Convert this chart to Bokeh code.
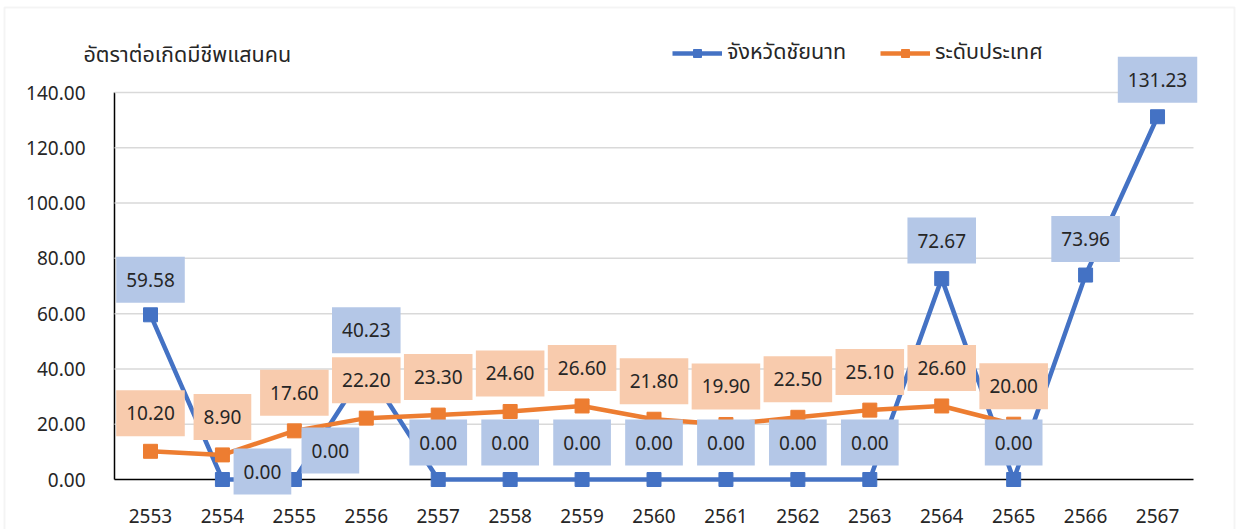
from bokeh.plotting import figure
from bokeh.models import (ColumnDataSource, Legend, LegendItem, Label, LinearAxis,
                          Range1d, FixedTicker, NumeralTickFormatter, BoxAnnotation)
from bokeh.embed import file_html
from bokeh.resources import INLINE

# ---------------- data ----------------
years = ["2553", "2554", "2555", "2556", "2557", "2558", "2559", "2560",
         "2561", "2562", "2563", "2564", "2565", "2566", "2567"]
chainat = [59.58, 0.00, 0.00, 40.23, 0.00, 0.00, 0.00, 0.00,
           0.00, 0.00, 0.00, 72.67, 0.00, 73.96, 131.23]
national_years = years[:13]
national = [10.20, 8.90, 17.60, 22.20, 23.30, 24.60, 26.60, 21.80,
            19.90, 22.50, 25.10, 26.60, 20.00]
y_ticks = [0, 20, 40, 60, 80, 100, 120, 140]
series_names = ["จังหวัดชัยนาท", "ระดับประเทศ"]
y_title = "อัตราต่อเกิดมีชีพแสนคน"

# label placement (screen px offsets, layout only)
chainat_dx = [0, 40, 36, 0, 0, 0, 0, 0, 0, 0, 0, 0, 0, 0, 0]
chainat_dy = [35, 8, 29, 38, 37, 37, 37, 37, 37, 37, 37, 38, 37, 36, 37]
national_dx = [0] * len(national)
national_dy = [38] * len(national)

BLUE = "#4472C4"
ORANGE = "#ED7D31"
BLUE_BG = "#B4C7E7"
ORANGE_BG = "#F8CBAD"
FONT = "Noto Sans"
THAI_FONT = "Noto Sans Thai, Noto Sans, sans-serif"
TXT = "#262626"

# ---------------- layout (pixels of the page) ----------------
W, H = 1239, 529
X0_PX, DX_PX = 150.0, 71.93       # centre of first category, category step
Y0_PX, DY_PX = 479.0, 387.0 / 140  # pixel of value 0, pixels per unit


def px_to_x(px):
    return (px - X0_PX) / DX_PX


def px_to_y(py):
    return (Y0_PX - py) / DY_PX


idx = list(range(len(years)))
xi_c = [years.index(v) for v in years]
xi_n = [years.index(v) for v in national_years]

src_c = ColumnDataSource(dict(x=xi_c, y=chainat))
src_n = ColumnDataSource(dict(x=xi_n, y=national))

p = figure(width=W, height=H,
           x_range=Range1d(px_to_x(0), px_to_x(W)),
           y_range=Range1d(px_to_y(H), px_to_y(0)),
           x_axis_location=None, y_axis_location=None,
           min_border=0, min_border_left=0, min_border_right=0,
           min_border_top=0, min_border_bottom=0,
           output_backend="svg", toolbar_location=None)
p.outline_line_color = None
p.background_fill_color = "white"
p.border_fill_color = "white"
p.grid.visible = False

# gridlines (only across the category span; the 0 line is the axis)
n = len(years)
grid_vals = y_ticks[1:]
p.segment(x0=[-0.5] * len(grid_vals), x1=[n - 0.5] * len(grid_vals),
          y0=grid_vals, y1=grid_vals, line_color="#D9D9D9", line_width=1.5)

# axes
yaxis = LinearAxis(fixed_location=-0.5, bounds=(0, 140),
                   ticker=FixedTicker(ticks=y_ticks),
                   formatter=NumeralTickFormatter(format="0.00"))
xaxis = LinearAxis(fixed_location=0, bounds=(-0.5, n - 0.5),
                   ticker=FixedTicker(ticks=idx),
                   major_label_overrides={i: y for i, y in zip(idx, years)})
for ax in (xaxis, yaxis):
    ax.level = "underlay"
    ax.major_tick_line_color = None
    ax.minor_tick_line_color = None
    ax.axis_line_color = "black"
    ax.axis_line_width = 1.5
    ax.major_label_text_font = FONT
    ax.major_label_text_font_size = "19px"
    ax.major_label_text_color = TXT
yaxis.major_label_standoff = 23
xaxis.major_label_standoff = 23
p.add_layout(yaxis, "left")
p.add_layout(xaxis, "below")

# lines
lc = p.line("x", "y", source=src_c, color=BLUE, line_width=4.5)
mc = p.scatter("x", "y", source=src_c, marker="square", size=14, color=BLUE)
ln = p.line("x", "y", source=src_n, color=ORANGE, line_width=4.5)
mn = p.scatter("x", "y", source=src_n, marker="square", size=14, color=ORANGE)

# data labels
for xs, ys, dxs, dys, bg in ((xi_c, chainat, chainat_dx, chainat_dy, BLUE_BG),
                             (xi_n, national, national_dx, national_dy, ORANGE_BG)):
    for xv, yv, dx, dy in zip(xs, ys, dxs, dys):
        p.add_layout(Label(x=xv, y=yv, text="%.2f" % yv,
                           x_offset=dx, y_offset=dy,
                           text_align="center", text_baseline="middle",
                           text_font=FONT, text_font_size="19px",
                           text_color=TXT, background_fill_color=bg,
                           padding=(10, 16)))

# y title
p.add_layout(Label(x=px_to_x(83), y=px_to_y(55), text=y_title, text_align="left",
                   text_baseline="middle", text_font=THAI_FONT,
                   text_font_size="21.5px", text_color=TXT))

# outer chart border
p.add_layout(BoxAnnotation(left=px_to_x(4), right=px_to_x(1234),
                           top=px_to_y(7), bottom=px_to_y(560),
                           fill_alpha=0, line_color="#D9D9D9", line_width=2))

# legends
for name, rends, loc in ((series_names[0], [lc, mc], (672, 460)),
                         (series_names[1], [ln, mn], (880, 460))):
    lg = Legend(items=[LegendItem(label=name, renderers=rends)],
                location=loc, orientation="horizontal",
                glyph_width=50, glyph_height=20, label_standoff=5,
                label_height=20, padding=0, margin=0, spacing=0,
                border_line_color=None, background_fill_alpha=0,
                label_text_font=THAI_FONT, label_text_font_size="21.5px",
                label_text_color=TXT)
    p.add_layout(lg)

open("out.html", "w").write(file_html(p, INLINE))
